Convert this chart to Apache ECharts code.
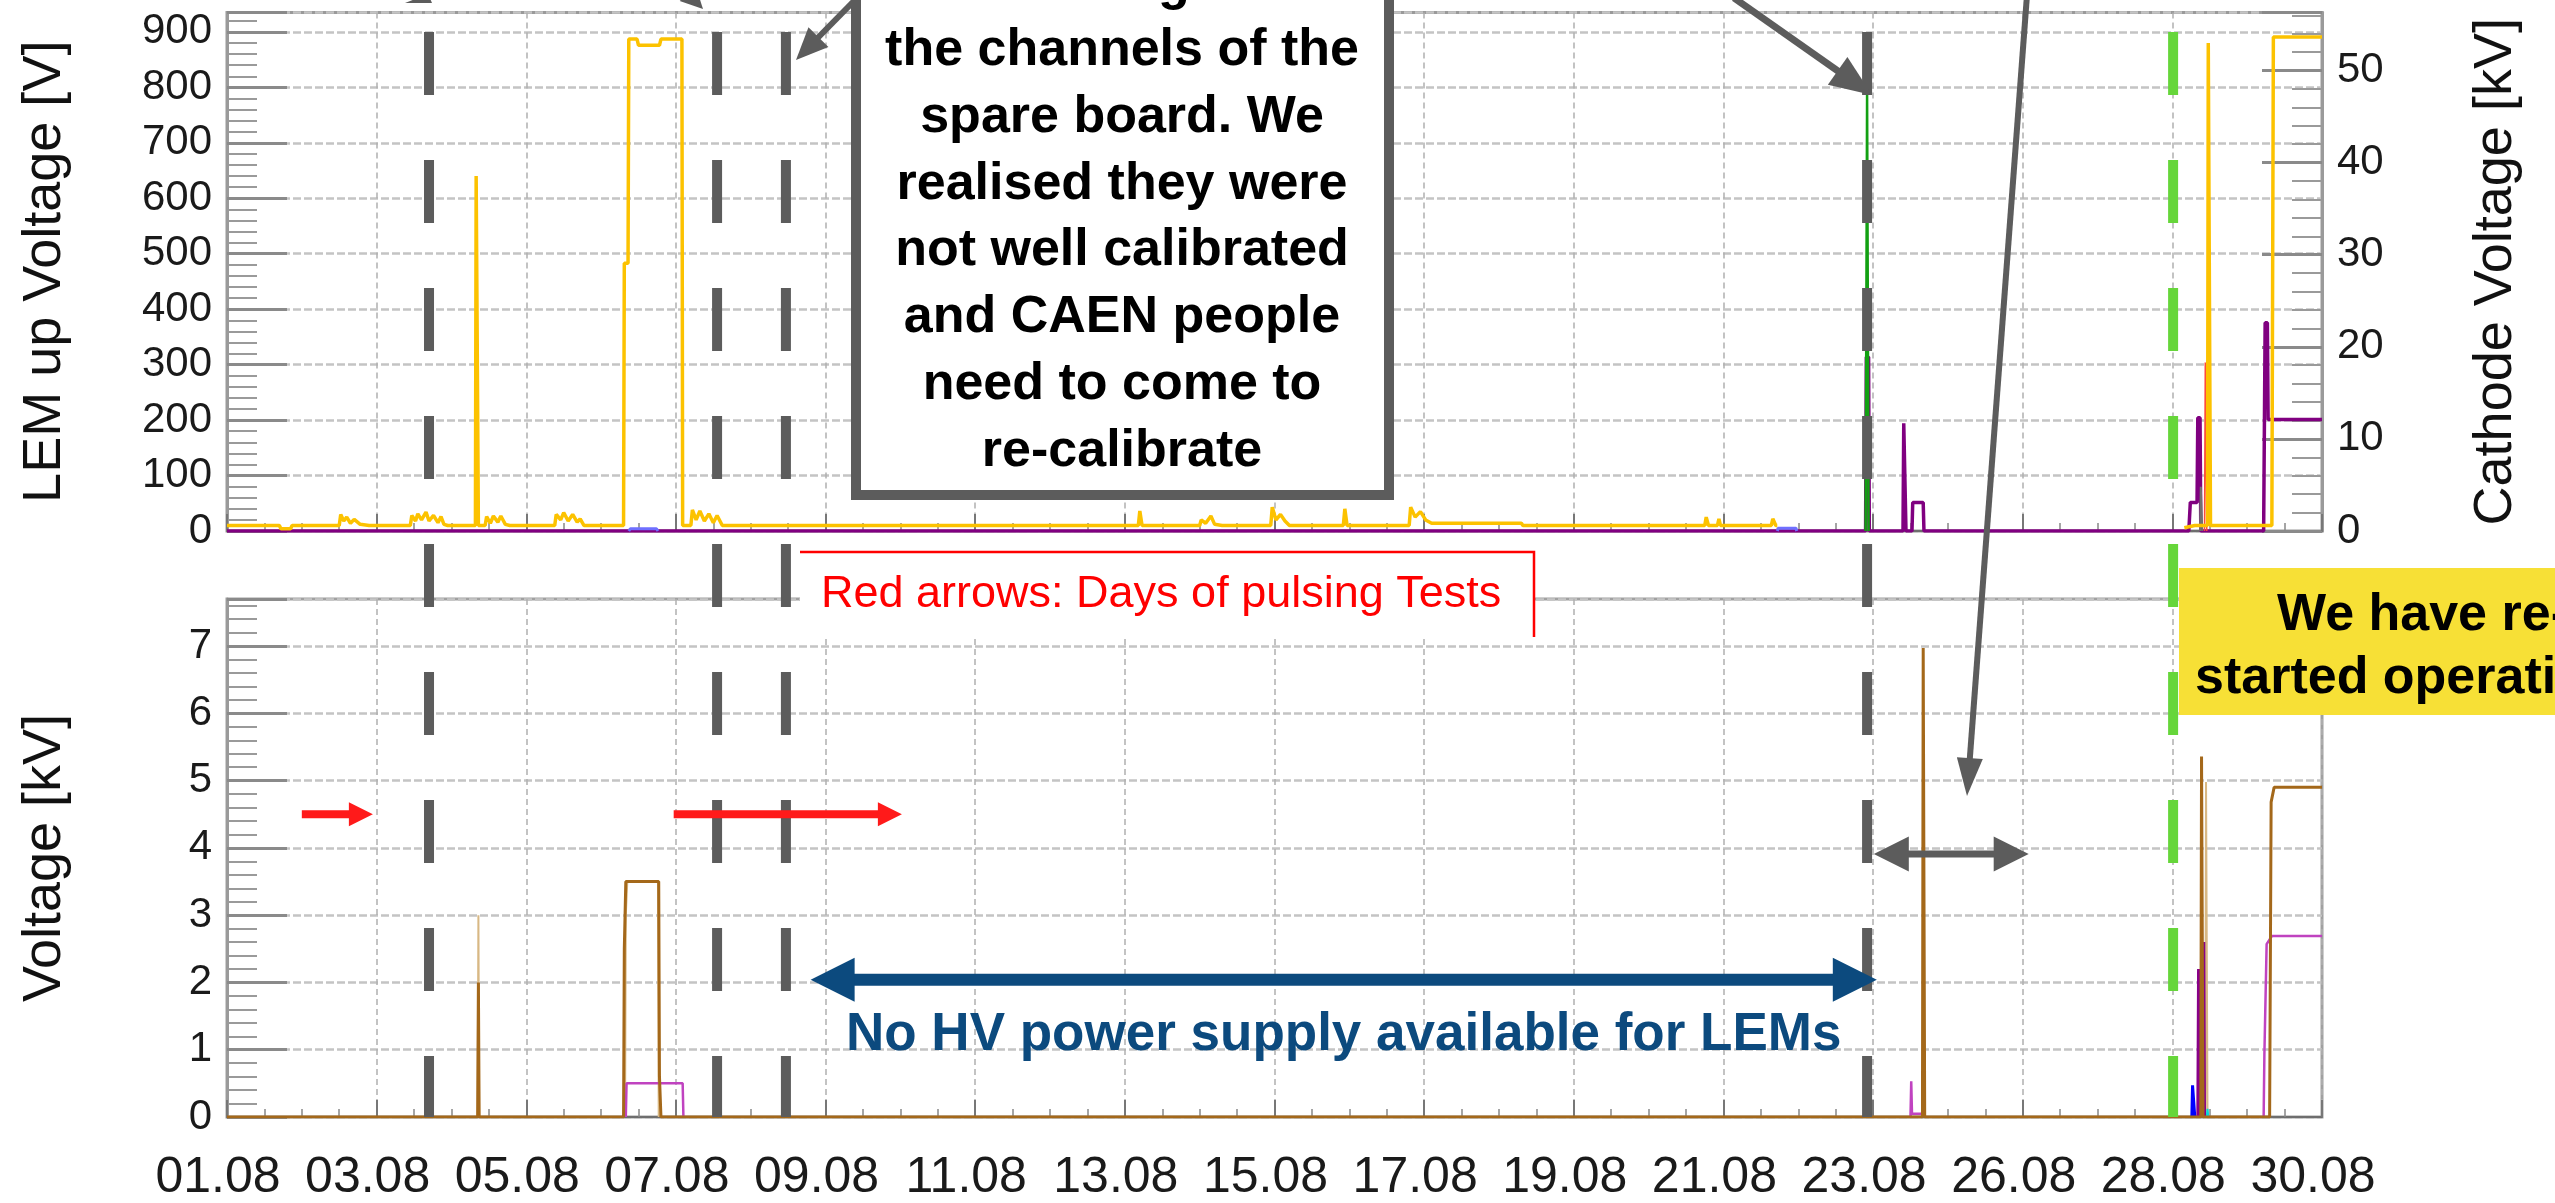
<!DOCTYPE html>
<html>
<head>
<meta charset="utf-8">
<title>LEM and cathode voltages, August</title>
<script src="https://cdn.jsdelivr.net/npm/echarts@6/dist/echarts.min.js"></script>
<style>
  html, body { margin: 0; padding: 0; background: #fff; }
  #chart { width: 2555px; height: 1203px; }
</style>
</head>
<body>
<div id="chart"></div>
<script>
// time axis: one printed label every 2 units (x values below are in the same units, 1 = one day step)
const xTickLabels = ['01.08', '03.08', '05.08', '07.08', '09.08', '11.08', '13.08', '15.08',
  '17.08', '19.08', '21.08', '23.08', '26.08', '28.08', '30.08'];

// ---- top panel ----
// LEM up voltage [V]
const lemUp = [
  [0, 10], [0.7, 10], [0.72, 4], [0.85, 4], [0.87, 10], [1.5, 10],
  [1.52, 30], [1.56, 18], [1.6, 25], [1.65, 14], [1.7, 21], [1.78, 12], [1.9, 10],
  [2.45, 10], [2.47, 28], [2.52, 18], [2.55, 31], [2.6, 20], [2.66, 34], [2.7, 18], [2.76, 28], [2.82, 15], [2.86, 26], [2.9, 12], [2.95, 10],
  [3.32, 10], [3.33, 640], [3.35, 640], [3.36, 10],
  [3.45, 10], [3.47, 26], [3.52, 14], [3.56, 27], [3.62, 16], [3.66, 27], [3.72, 12], [3.78, 10],
  [4.38, 10], [4.4, 30], [4.46, 20], [4.5, 33], [4.56, 18], [4.62, 30], [4.68, 16], [4.72, 22], [4.77, 10],
  [5.3, 10], [5.31, 483], [5.36, 483], [5.37, 887], [5.48, 887], [5.5, 876], [5.78, 876], [5.8, 887], [6.08, 887], [6.09, 10],
  [6.2, 10], [6.22, 38], [6.27, 20], [6.32, 36], [6.38, 18], [6.44, 31], [6.5, 15], [6.55, 28], [6.62, 10],
  [12.18, 10], [12.2, 36], [12.23, 10],
  [13.0, 10], [13.02, 20], [13.08, 14], [13.15, 27], [13.2, 12], [13.3, 10],
  [13.95, 10], [13.97, 43], [14.02, 20], [14.08, 30], [14.14, 18], [14.2, 10],
  [14.92, 10], [14.94, 40], [14.97, 10],
  [15.8, 10], [15.82, 43], [15.88, 25], [15.95, 35], [16.02, 20], [16.1, 14], [17.3, 14], [17.32, 10],
  [19.75, 10], [19.77, 25], [19.8, 10], [19.92, 10], [19.94, 22], [19.96, 10],
  [20.64, 10], [20.66, 22], [20.7, 10], [20.72, 10], [20.73, null],
  [26.16, 6], [26.3, 10], [26.47, 10], [26.48, 880], [26.5, 880], [26.51, 10],
  [27.33, 10], [27.35, 891], [28, 891]
];
// cathode voltage [kV]
const cathode = [
  [0, 0], [21.9, 0], [21.91, 18.9], [21.94, 18.9], [21.95, 0],
  [22.4, 0], [22.41, 11.7], [22.43, 11.7], [22.44, 0],
  [22.52, 0], [22.53, 3.1], [22.67, 3.1], [22.68, 0],
  [26.22, 0], [26.24, 3.1], [26.33, 3.1], [26.34, 12.3], [26.37, 12.3], [26.38, 0],
  [27.22, 0], [27.24, 22.6], [27.27, 22.6], [27.28, 12.1], [28, 12.1]
];
const cathodeGreen = [[21.9, 0], [21.92, 47.6], [21.94, 0]];
const cathodeGray = [[26.37, 0], [26.38, 4.8], [26.4, 0]];
const cathodeRed = [[26.43, 0], [26.44, 18.3], [26.46, 0]];
const lemUpBlue = [[5.37, 0], [5.39, 4], [5.74, 4], [5.76, 0], [5.77, null], [20.72, 0], [20.73, 5], [20.97, 5], [20.98, 0]];

// ---- bottom panel, voltage [kV] ----
const lemBrown = [
  [0, 0], [3.35, 0], [3.36, 2.0], [3.37, 0], [5.3, 0], [5.31, 2.5], [5.33, 3.5], [5.77, 3.5], [5.78, 0.6], [5.8, 0],
  [22.66, 0], [22.67, 6.97], [22.69, 0], [26.38, 0], [26.39, 5.36], [26.41, 0],
  [27.3, 0], [27.32, 4.68], [27.36, 4.9], [28, 4.9]
];
const lemTan = [
  [3.35, 0], [3.36, 3.0], [3.37, 0], [3.38, null],
  [5.32, 0], [5.33, 3.0], [5.35, 3.5], [5.76, 3.5], [5.77, 0], [5.78, null],
  [26.44, 0], [26.45, 4.98], [26.47, 0]
];
const lemMagenta = [
  [5.33, 0], [5.34, 0.5], [6.09, 0.5], [6.1, 0], [6.11, null],
  [22.5, 0], [22.51, 0.53], [22.52, 0.05], [22.66, 0.05], [22.67, 0], [22.68, null],
  [27.22, 0], [27.23, 0.93], [27.26, 2.57], [27.33, 2.69], [28, 2.69]
];
const lemPurple = [[26.34, 0], [26.35, 2.2], [26.37, 0], [26.38, null], [26.41, 0], [26.42, 2.6], [26.43, 0]];
const lemBlue = [[26.26, 0], [26.27, 0.47], [26.29, 0.47], [26.3, 0]];
const lemCyan = [[26.46, 0], [26.47, 0.12], [26.48, 0]];

// annotations (x in axis units, y in kV of the bottom panel)
const guideLines = [2.70, 6.55, 7.47, 21.92];
const restartLine = 26.01;
const redArrows = [[1.0, 1.95, 4.5], [5.97, 9.02, 4.5]];
const noHvArrow = [7.80, 22.05, 2.04];
const grayArrow = [22.01, 24.08, 3.91];

const FONT = '"Liberation Sans", Arial, Helvetica, sans-serif';

const chart = echarts.init(document.getElementById('chart'));

function xAxisCfg(grid, withLabels) {
  return {
    type: 'value', gridIndex: grid, min: 0, max: 28, interval: 2,
    axisLine: { show: true, lineStyle: { color: '#6e6e6e', width: 2 } },
    axisTick: { show: true, inside: true, length: 17, lineStyle: { color: '#777', width: 2 } },
    minorTick: { show: true, splitNumber: 4, length: 8, lineStyle: { color: '#888', width: 1.5 } },
    splitLine: { show: true, lineStyle: { color: '#b0b0b0', width: 1.5, type: [6, 4] } },
    axisLabel: {
      show: withLabels, margin: 36, fontSize: 50, color: '#1a1a1a', fontFamily: FONT,
      padding: [0, 18, 0, 0],
      formatter: v => xTickLabels[Math.round(v / 2)] || ''
    }
  };
}

function yAxisCfg(grid, max, interval, name, pos, gap) {
  return {
    type: 'value', gridIndex: grid, min: 0, max: max, interval: interval, position: pos,
    name: name, nameLocation: 'middle', nameGap: gap, nameRotate: 90,
    nameTextStyle: { fontSize: 54, color: '#111', fontFamily: FONT },
    axisLine: { show: true, lineStyle: { color: '#9a9a9a', width: 3 } },
    axisTick: { show: true, inside: true, length: 60, lineStyle: { color: '#8a8a8a', width: 3 } },
    minorTick: { show: true, splitNumber: 5, length: 30, lineStyle: { color: '#9a9a9a', width: 2 } },
    splitLine: { show: pos === 'left', lineStyle: { color: '#c4c4c4', width: 2.5, type: [8, 3] } },
    axisLabel: { fontSize: 42, color: '#1a1a1a', fontFamily: FONT, margin: 15, showMaxLabel: false }
  };
}

function line(name, data, color, width, xi, yi, z) {
  return {
    name: name, type: 'line', data: data, xAxisIndex: xi, yAxisIndex: yi,
    showSymbol: false, symbol: 'none', connectNulls: false, z: z || 2,
    lineStyle: { color: color, width: width }, itemStyle: { color: color }
  };
}

chart.setOption({
  animation: false,
  backgroundColor: '#ffffff',
  grid: [
    { left: 227, top: 12.5, width: 2095, height: 518.5, show: true, borderColor: '#9a9a9a', borderWidth: 3, outerBoundsMode: 'none' },
    { left: 227, top: 599, width: 2095, height: 518, show: true, borderColor: '#a0a0a0', borderWidth: 3, outerBoundsMode: 'none' }
  ],
  xAxis: [xAxisCfg(0, false), xAxisCfg(1, true)],
  yAxis: [
    yAxisCfg(0, 935, 100, 'LEM up Voltage [V]', 'left', 155),
    yAxisCfg(0, 56.3, 10, 'Cathode Voltage [kV]', 'right', 147),
    yAxisCfg(1, 7.7, 1, 'Voltage [kV]', 'left', 155)
  ],
  series: [
    line('Cathode', cathode, '#800080', 3.5, 0, 1, 3),
    line('LEM up', lemUp, '#fcc200', 3.5, 0, 0, 4),
    line('LEM up (2)', lemUpBlue, '#6f6fff', 3, 0, 0, 3),
    line('Cathode green', cathodeGreen, '#12a012', 2.5, 0, 1, 3),
    line('Cathode gray', cathodeGray, '#707070', 2, 0, 1, 3),
    line('Cathode red', cathodeRed, '#ff4a3a', 1.5, 0, 1, 3),
    line('LEM brown', lemBrown, '#a4681a', 3, 1, 2, 4),
    line('LEM tan', lemTan, '#d8b884', 2, 1, 2, 3),
    line('LEM magenta', lemMagenta, '#c043c0', 2.5, 1, 2, 3),
    line('LEM purple', lemPurple, '#880088', 3, 1, 2, 3),
    line('LEM blue', lemBlue, '#0000ff', 3, 1, 2, 3),
    line('LEM cyan', lemCyan, '#00d8d8', 2, 1, 2, 3)
  ]
});

// ---------- annotation layer ----------
const px = d => chart.convertToPixel({ xAxisIndex: 1 }, d);
const pyTop = v => chart.convertToPixel({ yAxisIndex: 0 }, v);
const pyKv = v => chart.convertToPixel({ yAxisIndex: 2 }, v);

function arrow(x1, y1, x2, y2, s) {
  const dx = x2 - x1, dy = y2 - y1, len = Math.hypot(dx, dy);
  const ux = dx / len, uy = dy / len, nx = -uy, ny = ux;
  const head = (tx, ty, sx, sy) => ({
    type: 'polygon', z: 121,
    shape: { points: [[tx, ty],
      [tx - sx * s.head + nx * s.headW / 2, ty - sy * s.head + ny * s.headW / 2],
      [tx - sx * s.head - nx * s.headW / 2, ty - sy * s.head - ny * s.headW / 2]] },
    style: { fill: s.color }
  });
  const cut = s.head * 0.8;
  const a = s.both ? cut : 0;
  const els = [{
    type: 'line', z: 120,
    shape: { x1: x1 + ux * a, y1: y1 + uy * a, x2: x2 - ux * cut, y2: y2 - uy * cut },
    style: { stroke: s.color, lineWidth: s.width }
  }, head(x2, y2, ux, uy)];
  if (s.both) els.push(head(x1, y1, -ux, -uy));
  return els;
}

function text(x, y, str, font, color, align, lineHeight) {
  return {
    type: 'text', z: 130, x: x, y: y,
    style: { text: str, font: font, fill: color, align: align || 'left', verticalAlign: lineHeight ? 'top' : 'middle', lineHeight: lineHeight }
  };
}

const g = [];
const yTop = pyTop(900), yBot = pyKv(0);
guideLines.forEach(d => {
  g.push({ type: 'line', z: 110, shape: { x1: px(d), y1: yTop, x2: px(d), y2: yBot },
    style: { stroke: '#5c5c5c', lineWidth: 10, lineDash: [63, 65] } });
});
g.push({ type: 'line', z: 110, shape: { x1: px(restartLine), y1: yTop, x2: px(restartLine), y2: yBot },
  style: { stroke: '#66d63a', lineWidth: 10, lineDash: [63, 65] } });

// calibration note box (cut at the top of the picture)
g.push({ type: 'rect', z: 115, shape: { x: 856, y: -30, width: 533, height: 525 },
  style: { fill: '#ffffff', stroke: '#5c5c5c', lineWidth: 10 } });
g.push(text(1122, -49, ['monitoring of all', 'the channels of the', 'spare board. We', 'realised they were',
  'not well calibrated', 'and CAEN people', 'need to come to', 're-calibrate'].join('\n'),
  'bold 52px ' + FONT, '#000', 'center', 66.7));

// arrows coming from the cut top part
const grey = { color: '#5c5c5c', width: 6, head: 32, headW: 28 };
g.push(...arrow(857, -2, 796, 60, grey));
g.push(...arrow(655, -40, 703, 9, { color: '#5c5c5c', width: 6, head: 22, headW: 22 }));
g.push({ type: 'polygon', z: 121, shape: { points: [[405, 3], [432, 3], [428, -6]] }, style: { fill: '#5c5c5c' } });
g.push(...arrow(1734, -2, 1872, 95, { color: '#5c5c5c', width: 7, head: 42, headW: 34 }));
g.push(...arrow(2027, -5, 1967, 796, { color: '#5c5c5c', width: 6, head: 38, headW: 26 }));

// red legend box
g.push({ type: 'rect', z: 115, shape: { x: 800, y: 552, width: 734, height: 85 }, style: { fill: '#ffffff' } });
g.push({ type: 'polyline', z: 116, shape: { points: [[800, 552], [1534, 552], [1534, 637]] },
  style: { stroke: '#ff0000', lineWidth: 2.5, fill: null } });
g.push(text(821, 595, 'Red arrows: Days of pulsing Tests', '45px ' + FONT, '#ff0000'));

redArrows.forEach(r => {
  g.push(...arrow(px(r[0]), pyKv(r[2]), px(r[1]), pyKv(r[2]), { color: '#ff1a1a', width: 8, head: 24, headW: 24 }));
});
g.push(...arrow(px(noHvArrow[0]), pyKv(noHvArrow[2]), px(noHvArrow[1]), pyKv(noHvArrow[2]),
  { color: '#0c4a7e', width: 12, head: 44, headW: 44, both: true }));
g.push(text(846, 1035, 'No HV power supply available for LEMs', 'bold 53px ' + FONT, '#0c4a7e'));
g.push(...arrow(px(grayArrow[0]), pyKv(grayArrow[2]), px(grayArrow[1]), pyKv(grayArrow[2]),
  { color: '#5c5c5c', width: 7, head: 35, headW: 35, both: true }));

// restart note (cut at the right edge)
g.push({ type: 'rect', z: 115, shape: { x: 2179, y: 568, width: 420, height: 147 }, style: { fill: '#f7e036' } });
g.push(text(2277, 616, 'We have re-', 'bold 52px ' + FONT, '#000'));
g.push(text(2195, 679, 'started operation', 'bold 52px ' + FONT, '#000'));

chart.setOption({ graphic: g });
</script>
</body>
</html>
